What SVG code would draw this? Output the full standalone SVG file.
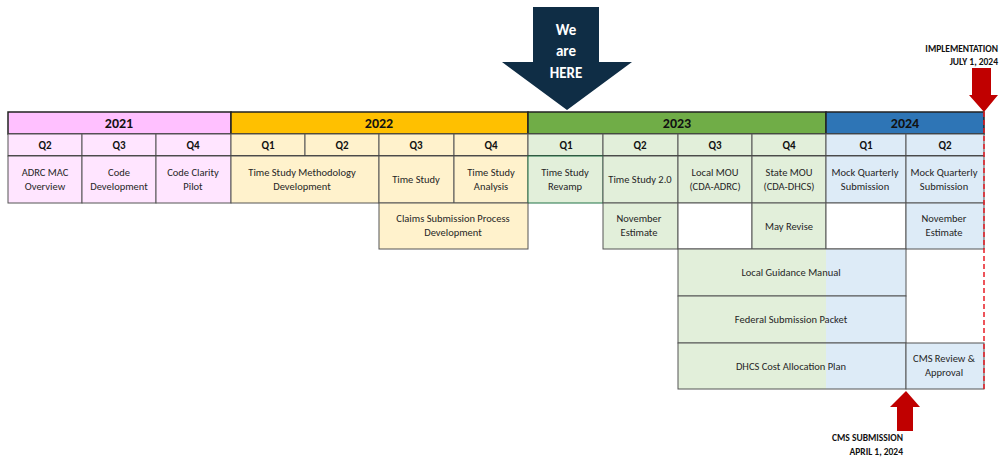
<svg xmlns="http://www.w3.org/2000/svg" width="1005" height="462" viewBox="0 0 1005 462">
<style>
text{font-family:Carlito,Calibri,"Liberation Sans",sans-serif;fill:#262626;text-anchor:middle}
.c{stroke:#555;stroke-width:1}
.h{stroke:#222;stroke-width:1.5}
.yr{font-size:14px;font-weight:bold;fill:#111}
.q{font-size:11px;font-weight:bold;fill:#111}
.t{font-size:10.5px}
.lab{font-size:9.5px;font-weight:bold;fill:#111;text-anchor:end}
</style>
<rect width="1005" height="462" fill="#fff"/>
<g id="years">
<rect class="h" x="8" y="112" width="223" height="22" fill="#ffc0ff"/><text class="yr" x="119" y="128">2021</text>
<rect class="h" x="231" y="112" width="297" height="22" fill="#ffc000"/><text class="yr" x="379" y="128">2022</text>
<rect class="h" x="528" y="112" width="298" height="22" fill="#70ad47"/><text class="yr" x="677" y="128">2023</text>
<rect class="h" x="826" y="112" width="158" height="22" fill="#2e75b6"/><text class="yr" x="905" y="128">2024</text>
</g>
<g id="quarters">
<rect class="c" x="8" y="134" width="74" height="22" fill="#ffe5ff"/><text class="q" x="45" y="149">Q2</text>
<rect class="c" x="82" y="134" width="74" height="22" fill="#ffe5ff"/><text class="q" x="119" y="149">Q3</text>
<rect class="c" x="156" y="134" width="75" height="22" fill="#ffe5ff"/><text class="q" x="193" y="149">Q4</text>
<rect class="c" x="231" y="134" width="74" height="22" fill="#fff2cc"/><text class="q" x="268" y="149">Q1</text>
<rect class="c" x="305" y="134" width="74" height="22" fill="#fff2cc"/><text class="q" x="342" y="149">Q2</text>
<rect class="c" x="379" y="134" width="75" height="22" fill="#fff2cc"/><text class="q" x="416" y="149">Q3</text>
<rect class="c" x="454" y="134" width="74" height="22" fill="#fff2cc"/><text class="q" x="491" y="149">Q4</text>
<rect class="c" x="528" y="134" width="75" height="22" fill="#e2efda"/><text class="q" x="566" y="149">Q1</text>
<rect class="c" x="603" y="134" width="75" height="22" fill="#e2efda"/><text class="q" x="640" y="149">Q2</text>
<rect class="c" x="678" y="134" width="74" height="22" fill="#e2efda"/><text class="q" x="715" y="149">Q3</text>
<rect class="c" x="752" y="134" width="74" height="22" fill="#e2efda"/><text class="q" x="789" y="149">Q4</text>
<rect class="c" x="826" y="134" width="80" height="22" fill="#ddebf7"/><text class="q" x="866" y="149">Q1</text>
<rect class="c" x="906" y="134" width="78" height="22" fill="#ddebf7"/><text class="q" x="945" y="149">Q2</text>
<line class="h" x1="8" y1="156" x2="984" y2="156"/>
</g>
<g id="row1">
<g id="adrc"><rect class="c" x="8" y="156" width="74" height="47" fill="#ffe5ff"/><text class="t" x="45" y="176">ADRC MAC</text><text class="t" x="45" y="190">Overview</text></g>
<g id="codedev"><rect class="c" x="82" y="156" width="74" height="47" fill="#ffe5ff"/><text class="t" x="119" y="176">Code</text><text class="t" x="119" y="190">Development</text></g>
<g id="clarity"><rect class="c" x="156" y="156" width="75" height="47" fill="#ffe5ff"/><text class="t" x="193" y="176">Code Clarity</text><text class="t" x="193" y="190">Pilot</text></g>
<g id="tsmd"><rect class="c" x="231" y="156" width="148" height="47" fill="#fff2cc"/><text class="t" x="302" y="176">Time Study Methodology</text><text class="t" x="302" y="190">Development</text></g>
<g id="ts"><rect class="c" x="379" y="156" width="75" height="47" fill="#fff2cc"/><text class="t" x="416" y="183">Time Study</text></g>
<g id="tsa"><rect class="c" x="454" y="156" width="74" height="47" fill="#fff2cc"/><text class="t" x="491" y="176">Time Study</text><text class="t" x="491" y="190">Analysis</text></g>
<g id="tsr"><rect x="528" y="156" width="75" height="47" fill="#e2efda" stroke="#217346" stroke-width="1"/><text class="t" x="565" y="176">Time Study</text><text class="t" x="565" y="190">Revamp</text></g>
<g id="ts2"><rect class="c" x="603" y="156" width="75" height="47" fill="#e2efda"/><text class="t" x="640" y="183">Time Study 2.0</text></g>
<g id="lmou"><rect class="c" x="678" y="156" width="74" height="47" fill="#e2efda"/><text class="t" x="715" y="176">Local MOU</text><text class="t" x="715" y="190">(CDA-ADRC)</text></g>
<g id="smou"><rect class="c" x="752" y="156" width="74" height="47" fill="#e2efda"/><text class="t" x="789" y="176">State MOU</text><text class="t" x="789" y="190">(CDA-DHCS)</text></g>
<g id="mqs1"><rect class="c" x="826" y="156" width="80" height="47" fill="#ddebf7"/><text class="t" x="865" y="176">Mock Quarterly</text><text class="t" x="865" y="190">Submission</text></g>
<g id="mqs2"><rect class="c" x="906" y="156" width="78" height="47" fill="#ddebf7"/><text class="t" x="944" y="176">Mock Quarterly</text><text class="t" x="944" y="190">Submission</text></g>
</g>
<g id="row2">
<g id="claims"><rect class="c" x="379" y="203" width="149" height="46" fill="#fff2cc"/><text class="t" x="453" y="222">Claims Submission Process</text><text class="t" x="453" y="236">Development</text></g>
<g id="nov1"><rect class="c" x="603" y="203" width="75" height="46" fill="#e2efda"/><text class="t" x="639" y="222">November</text><text class="t" x="639" y="236">Estimate</text></g>
<rect class="c" x="678" y="203" width="74" height="46" fill="#fff"/>
<g id="may"><rect class="c" x="752" y="203" width="74" height="46" fill="#e2efda"/><text class="t" x="789" y="230">May Revise</text></g>
<rect class="c" x="826" y="203" width="80" height="46" fill="#fff"/>
<g id="nov2"><rect class="c" x="906" y="203" width="78" height="46" fill="#ddebf7"/><text class="t" x="944" y="222">November</text><text class="t" x="944" y="236">Estimate</text></g>
</g>
<defs><linearGradient id="gb" x1="678" x2="906" gradientUnits="userSpaceOnUse"><stop offset="0.649" stop-color="#e2efda"/><stop offset="0.649" stop-color="#ddebf7"/></linearGradient></defs>
<g id="lgm"><rect class="c" x="678" y="249" width="228" height="47" fill="url(#gb)"/><text class="t" x="791" y="276">Local Guidance Manual</text></g>
<g id="fsp"><rect class="c" x="678" y="296" width="228" height="47" fill="url(#gb)"/><text class="t" x="791" y="323">Federal Submission Packet</text></g>
<g id="dhcs"><rect class="c" x="678" y="343" width="228" height="46" fill="url(#gb)"/><text class="t" x="791" y="370">DHCS Cost Allocation Plan</text></g>
<g id="cms"><rect class="c" x="906" y="343" width="78" height="46" fill="#ddebf7"/><text class="t" x="944" y="362">CMS Review &amp;</text><text class="t" x="944" y="376">Approval</text></g>
<g id="connectors">
<line x1="984" y1="112" x2="984" y2="389" stroke="#e81c24" stroke-width="1.5" stroke-dasharray="5,3"/>
</g>
<g id="here">
<polygon points="533,7 599,7 599,62 632,62 567,110 502,62 533,62" fill="#0f2d45"/>
<text x="566" y="35" style="font-size:15px;font-weight:bold;fill:#fff">We</text>
<text x="566" y="56" style="font-size:15px;font-weight:bold;fill:#fff">are</text>
<text x="566" y="78" style="font-size:15px;font-weight:bold;fill:#fff">HERE</text>
</g>
<g id="impl">
<polygon points="972,68 991,68 991,95 998,95 984,112 969,95 972,95" fill="#c00000"/>
<text class="lab" x="998" y="52">IMPLEMENTATION</text>
<text class="lab" x="998" y="65">JULY 1, 2024</text>
</g>
<g id="cmssub">
<polygon points="906,391 920,407 913,407 913,431 897,431 897,407 890,407" fill="#c00000"/>
<text class="lab" x="903" y="441">CMS SUBMISSION</text>
<text class="lab" x="903" y="455">APRIL 1, 2024</text>
</g>
</svg>
